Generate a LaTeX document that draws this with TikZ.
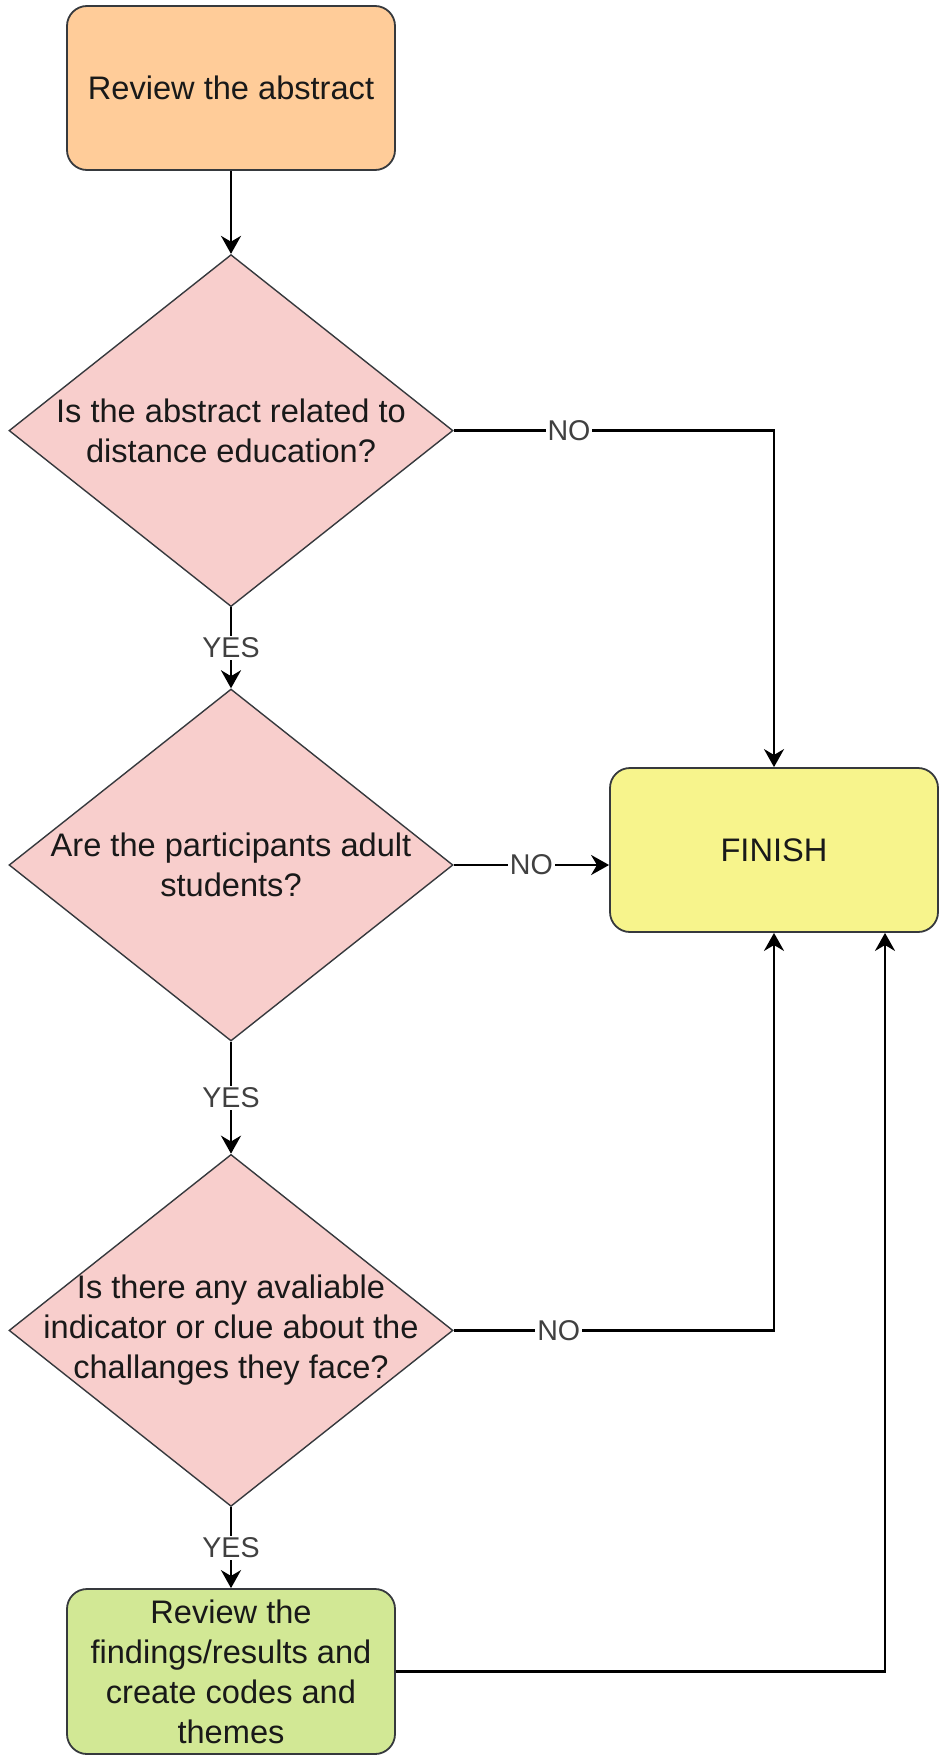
\documentclass[tikz,border=0pt]{standalone}
\usepackage{fontspec}
\setmainfont{Liberation Sans}
\usepackage{tikz}
\usetikzlibrary{arrows.meta,positioning,shapes}
\definecolor{startfill}{HTML}{FFCC99}
\definecolor{askfill}{HTML}{F8CECC}
\definecolor{finishfill}{HTML}{F7F48C}
\definecolor{reviewfill}{HTML}{D2E895}
\definecolor{bordergray}{HTML}{36393D}
\definecolor{answergray}{HTML}{404040}

\begin{document}
\begin{tikzpicture}[->,>={Stealth[length=9pt,width=10pt]},x=0.5pt,y=-0.5pt,line width=1.4pt,
        font=\fontsize{16.3}{20}\selectfont]
        \tikzstyle{box} = [rectangle, rounded corners=10pt, draw=bordergray, line width=0.9pt, minimum width=164pt, minimum height=82pt, align=center, text=black!90]
        \tikzstyle{ask} = [diamond, draw=bordergray, fill=askfill, line width=0.7pt, minimum width=222pt, minimum height=176pt, inner sep=0pt]
        \tikzstyle{asktext} = [align=center, text=black!90, inner sep=0pt]
        \tikzstyle{answer} = [fill=white, text=answergray, inner sep=1pt, font=\fontsize{14.3}{16}\selectfont]

        \useasboundingbox (0,0) rectangle (945,1756);

        % Nodes
        \node[box, fill=startfill] (start) at (231,88) {Review the abstract};
        \node[ask, below=41.5pt of start] (d1) {};
        \node[asktext] (d1t) at (d1) {Is the abstract related to\\distance education?};
        \node[ask, below=40.5pt of d1] (d2) {};
        \node[asktext] (d2t) at (d2) {Are the participants adult\\students?};
        \node[ask, below=56pt of d2] (d3) {};
        \node[asktext] (d3t) at (d3) {Is there any avaliable\\indicator or clue about the\\challanges they face?};
        \node[box, fill=reviewfill, below=40.5pt of d3, minimum height=82.5pt] (review) {Review the\\findings/results and\\create codes and\\themes};
        \node[box, fill=finishfill] (finish) at (774,850) {FINISH};
        \coordinate (fin2) at ([xshift=55.5pt]finish.south);

        % Edges
        \path (start) edge (d1);
        \path (d1) edge node[answer] {YES} (d2);
        \path (d2) edge node[answer] {YES} (d3);
        \path (d3) edge node[answer] {YES} (review);
        \draw (d1) -| node[answer, pos=0.18] {NO} (finish);
        \draw (d2.east) -- node[answer] {NO} (d2.east -| finish.west);
        \draw (d3) -| node[answer, pos=0.164] {NO} (finish);
        \draw (review.east) -| (fin2);
    \end{tikzpicture}
\end{document}
